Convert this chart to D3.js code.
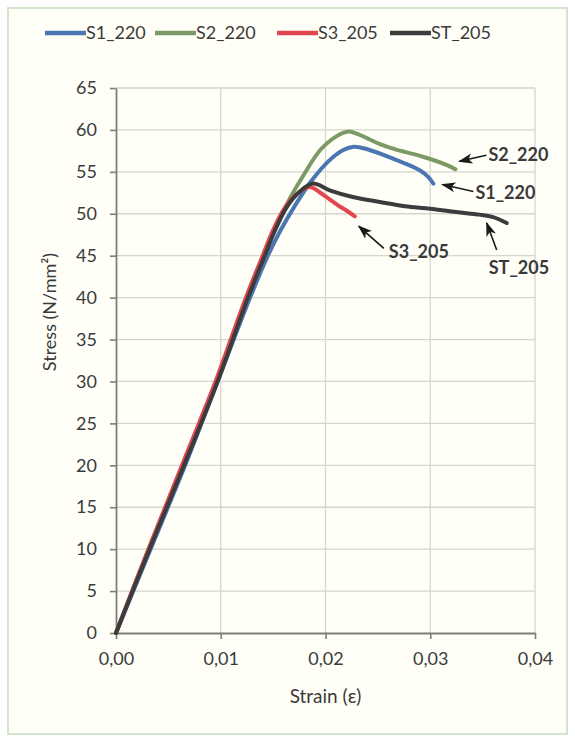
<!DOCTYPE html>
<html>
<head>
<meta charset="utf-8">
<script src="https://cdn.jsdelivr.net/npm/d3@7"></script>
<style>
  html, body { margin: 0; padding: 0; background: #ffffff; }
  svg { display: block; }
  text { font-family: "Lato", "Open Sans", sans-serif; fill: #3a3a3a; }
</style>
</head>
<body>
<script>
// Stress–strain test curves for four specimens
const seriesNames = ["S1_220", "S2_220", "S3_205", "ST_205"];
const seriesColors = ["#4a76b2", "#7c9a66", "#e2464f", "#3c3c3c"];

const strainS1 = [0, 0.0033, 0.0066, 0.0097, 0.0128, 0.0145, 0.0157, 0.0171, 0.0187, 0.0204, 0.0217, 0.0227, 0.0240, 0.0268, 0.0290, 0.0298, 0.0303];
const stressS1 = [0, 10, 20, 30, 40, 45, 48.0, 51.0, 54.0, 56.4, 57.6, 58.0, 57.7, 56.4, 55.2, 54.4, 53.6];

const strainS2 = [0, 0.0031, 0.0064, 0.0096, 0.0125, 0.0141, 0.0152, 0.0165, 0.0179, 0.0195, 0.0210, 0.0222, 0.0231, 0.0240, 0.0252, 0.0266, 0.0293, 0.0316, 0.0324];
const stressS2 = [0, 10, 20, 30, 40, 45, 48.2, 51.6, 54.6, 57.6, 59.2, 59.8, 59.5, 59.0, 58.3, 57.7, 56.8, 55.8, 55.3];

const strainS3 = [0, 0.0031, 0.0063, 0.0095, 0.0124, 0.0140, 0.0148, 0.0160, 0.0172, 0.0185, 0.0194, 0.0203, 0.0212, 0.0221, 0.0228];
const stressS3 = [0, 10, 20, 30, 40, 45, 47.5, 50.5, 52.3, 53.2, 52.6, 51.8, 51.0, 50.3, 49.7];

const strainST = [0, 0.0032, 0.0065, 0.0097, 0.0126, 0.0142, 0.0151, 0.0163, 0.0175, 0.0188, 0.0204, 0.0226, 0.0252, 0.0276, 0.0300, 0.0325, 0.0347, 0.0360, 0.0373];
const stressST = [0, 10, 20, 30, 40, 45, 47.8, 50.8, 52.6, 53.6, 52.8, 52.0, 51.4, 50.9, 50.6, 50.2, 49.9, 49.6, 48.9];

const xTicks = [0, 0.01, 0.02, 0.03, 0.04];
const yTicks = [0, 5, 10, 15, 20, 25, 30, 35, 40, 45, 50, 55, 60, 65];

const xTitle = "Strain (ε)";
const yTitle = "Stress (N/mm²)";

const W = 575, H = 736;
const plot = { left: 116, right: 535, top: 88, bottom: 633 };

const svg = d3.select("body").append("svg").attr("width", W).attr("height", H);

// chart area
svg.append("rect")
  .attr("x", 8).attr("y", 8).attr("width", 559).attr("height", 726)
  .attr("fill", "#fffff8").attr("stroke", "#d3e6cb").attr("stroke-width", 2);

const x = d3.scaleLinear().domain([0, 0.04]).range([plot.left, plot.right]);
const y = d3.scaleLinear().domain([0, 65]).range([plot.bottom, plot.top]);

// gridlines
svg.append("g").selectAll("line").data(yTicks.filter(d => d > 0)).join("line")
  .attr("x1", plot.left).attr("x2", plot.right)
  .attr("y1", d => y(d)).attr("y2", d => y(d))
  .attr("stroke", "#d6d6cf").attr("stroke-width", 1.3);
svg.append("g").selectAll("line").data(xTicks.filter(d => d > 0)).join("line")
  .attr("y1", plot.top).attr("y2", plot.bottom)
  .attr("x1", d => x(d)).attr("x2", d => x(d))
  .attr("stroke", "#d6d6cf").attr("stroke-width", 1.3);

// axes
const fmtX = d => d3.format(".2f")(d).replace(".", ",");
const xAxis = svg.append("g").attr("transform", `translate(0,${plot.bottom})`)
  .call(d3.axisBottom(x).tickValues(xTicks).tickFormat(fmtX).tickSize(6).tickSizeOuter(0).tickPadding(13));
const yAxis = svg.append("g").attr("transform", `translate(${plot.left},0)`)
  .call(d3.axisLeft(y).tickValues(yTicks).tickFormat(d3.format("d")).tickSize(6).tickSizeOuter(0).tickPadding(13));
[xAxis, yAxis].forEach(g => {
  g.select(".domain").attr("stroke", "#7b8074").attr("stroke-width", 1.8);
  g.selectAll(".tick line").attr("stroke", "#7b8074").attr("stroke-width", 1.6);
  g.selectAll(".tick text").style("font-family", "Lato, sans-serif").style("font-size", "18px").attr("fill", "#3a3a3a");
});

// axis titles
svg.append("text").attr("x", (plot.left + plot.right) / 2).attr("y", 703)
  .attr("text-anchor", "middle").style("font-size", "19px").text(xTitle);
svg.append("text").attr("transform", "translate(56,312) rotate(-90)")
  .attr("text-anchor", "middle").style("font-size", "18px").text(yTitle);

// curves
const series = [
  { name: seriesNames[0], color: seriesColors[0], strain: strainS1, stress: stressS1 },
  { name: seriesNames[1], color: seriesColors[1], strain: strainS2, stress: stressS2 },
  { name: seriesNames[2], color: seriesColors[2], strain: strainS3, stress: stressS3 },
  { name: seriesNames[3], color: seriesColors[3], strain: strainST, stress: stressST }
];
const line = d3.line().x(d => x(d[0])).y(d => y(d[1])).curve(d3.curveCatmullRom.alpha(0.5));
series.forEach(s => {
  const pts = s.strain.map((e, i) => [e, s.stress[i]]);
  svg.append("path").datum(pts)
    .attr("d", line).attr("fill", "none")
    .attr("stroke", s.color).attr("stroke-width", 4)
    .attr("stroke-linecap", "round").attr("stroke-linejoin", "round");
});

// legend
const legendX = [45, 155, 277, 390];
const lg = svg.append("g");
series.forEach((s, i) => {
  lg.append("line").attr("x1", legendX[i]).attr("x2", legendX[i] + 41)
    .attr("y1", 33).attr("y2", 33).attr("stroke", s.color).attr("stroke-width", 4.5);
  lg.append("text").attr("x", legendX[i] + 41).attr("y", 39)
    .style("font-size", "18px").text(s.name);
});

// end-of-curve labels with arrows
const defs = svg.append("defs");
defs.append("marker").attr("id", "arrowhead")
  .attr("viewBox", "0 0 10 10").attr("refX", 9).attr("refY", 5)
  .attr("markerWidth", 9).attr("markerHeight", 9).attr("orient", "auto")
  .append("path").attr("d", "M0,1.5 L10,5 L0,8.5 L2.5,5 Z").attr("fill", "#1a1a1a");

const endOf = s => [x(s.strain[s.strain.length - 1]), y(s.stress[s.stress.length - 1])];
const notes = [
  { s: series[1], tip: [4, -8], tail: [31, -14], text: [33, -8] },
  { s: series[0], tip: [9, 1], tail: [40, 8], text: [42, 15] },
  { s: series[2], tip: [4, 10], tail: [29, 32], text: [34, 42] },
  { s: series[3], tip: [-20, 0], tail: [-10, 27], text: [-18, 51] }
];
notes.forEach(n => {
  const [ex, ey] = endOf(n.s);
  svg.append("line")
    .attr("x1", ex + n.tail[0]).attr("y1", ey + n.tail[1])
    .attr("x2", ex + n.tip[0]).attr("y2", ey + n.tip[1])
    .attr("stroke", "#1a1a1a").attr("stroke-width", 1.6)
    .attr("marker-end", "url(#arrowhead)");
  svg.append("text").attr("x", ex + n.text[0]).attr("y", ey + n.text[1])
    .style("font-size", "18px").style("font-weight", "bold").text(n.s.name);
});
</script>
</body>
</html>
